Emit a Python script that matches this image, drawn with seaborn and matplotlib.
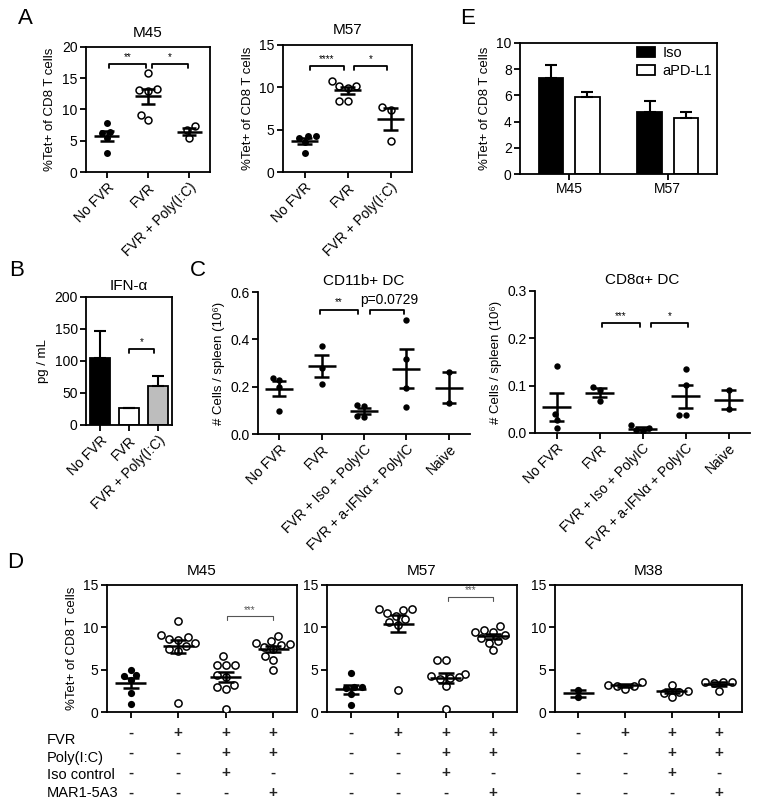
import numpy as np
import pandas as pd
import matplotlib
matplotlib.use('Agg')
import matplotlib.pyplot as plt
from matplotlib.ticker import FormatStrFormatter
import seaborn as sns
import warnings
warnings.filterwarnings('ignore')

# ---------------- data ----------------
a_groups = ['No FVR', 'FVR', 'FVR + Poly(I:C)']
a_m45_nofvr = [7.8, 6.4, 6.3, 5.4, 3.1]
a_m45_fvr = [15.9, 13.2, 13.1, 13.0, 9.1, 8.3]
a_m45_poly = [7.3, 6.7, 5.4]
a_m57_nofvr = [4.3, 4.2, 4.0, 3.5, 2.3]
a_m57_fvr = [10.8, 10.2, 10.2, 9.9, 8.4, 8.4]
a_m57_poly = [7.7, 7.3, 3.7]

b_groups = ['No FVR', 'FVR', 'FVR + Poly(I:C)']
b_values = [105, 26, 61]
b_err = [42, 1, 16]
b_colors = ['black', 'white', '#bdbdbd']

c_groups = ['No FVR', 'FVR', 'FVR + Iso + PolyIC', 'FVR + a-IFNα + PolyIC', 'Naive']
c_cd11b = [[0.235, 0.228, 0.200, 0.098], [0.371, 0.280, 0.213],
           [0.122, 0.120, 0.075, 0.073], [0.483, 0.316, 0.195, 0.112], [0.263, 0.129]]
c_cd8a = [[0.141, 0.040, 0.027, 0.011], [0.097, 0.091, 0.068],
          [0.016, 0.010, 0.006, 0.005], [0.135, 0.101, 0.037, 0.037], [0.091, 0.050]]

d_groups = ['g1', 'g2', 'g3', 'g4']
d_m45 = [[5.0, 4.4, 4.2, 3.8, 2.3, 1.0],
         [10.7, 9.1, 8.8, 8.6, 8.5, 8.1, 7.8, 7.5, 7.2, 1.1],
         [6.6, 5.6, 5.6, 5.6, 4.4, 4.1, 3.2, 2.9, 2.7, 0.3],
         [9.0, 8.4, 8.2, 8.0, 7.9, 7.7, 7.4, 6.6, 6.1, 5.0]]
d_m57 = [[4.6, 2.9, 2.9, 2.8, 2.1, 0.8],
         [12.2, 12.2, 12.0, 11.7, 11.3, 11.0, 10.6, 10.3, 2.6],
         [6.1, 6.1, 4.5, 4.3, 4.1, 4.0, 3.9, 3.1, 0.3],
         [10.1, 9.7, 9.5, 9.4, 9.1, 8.7, 8.4, 8.2, 7.3]]
d_m38 = [[2.65, 1.75], [3.6, 3.2, 3.1, 3.1, 2.7],
         [3.2, 2.5, 2.4, 2.3, 1.8], [3.6, 3.6, 3.5, 3.4, 2.5]]
d_rows = ['FVR', 'Poly(I:C)', 'Iso control', 'MAR1-5A3']
d_table = [['-', '+', '+', '+'], ['-', '-', '+', '+'],
           ['-', '-', '+', '-'], ['-', '-', '-', '+']]

e_strains = ['M45', 'M57']
e_treats = ['Iso', 'aPD-L1']
e_iso = [7.3, 4.75]
e_iso_err = [1.0, 0.8]
e_pdl1 = [5.9, 4.3]
e_pdl1_err = [0.35, 0.45]

# ---------------- style ----------------
sns.set_theme(style='ticks')
plt.rcParams['font.family'] = ['Liberation Sans', 'DejaVu Sans']
plt.rcParams.update({
    'axes.linewidth': 1.3, 'xtick.major.width': 1.3, 'ytick.major.width': 1.3,
    'xtick.major.size': 4, 'ytick.major.size': 4,
    'xtick.labelsize': 10, 'ytick.labelsize': 10,
    'axes.edgecolor': 'black', 'xtick.color': 'black', 'ytick.color': 'black',
    'text.color': 'black', 'axes.labelcolor': 'black',
    'xtick.major.pad': 2, 'ytick.major.pad': 2,
})

W, H = 758, 807
fig = plt.figure(figsize=(W / 100, H / 100), dpi=100)


def add_ax(x0, y0, x1, y1):
    return fig.add_axes([x0 / W, 1 - y1 / H, (x1 - x0) / W, (y1 - y0) / H])


def scatter_panel(ax, groups, values, filled, size=5, mean_w=0.62, cap_w=0.34):
    rows = []
    for g, vals in zip(groups, values):
        for v in vals:
            rows.append((g, v))
    df = pd.DataFrame(rows, columns=['group', 'value'])
    fg = [g for g, f in zip(groups, filled) if f]
    df_f = df[df.group.isin(fg)]
    df_o = df[~df.group.isin(fg)]
    if len(df_f):
        sns.swarmplot(data=df_f, x='group', y='value', order=groups, color='black',
                      size=size, ax=ax, zorder=3)
    if len(df_o):
        sns.swarmplot(data=df_o, x='group', y='value', order=groups, color='white',
                      edgecolor='black', linewidth=1.1, size=size, ax=ax, zorder=3)
    for i, vals in enumerate(values):
        m = np.mean(vals)
        se = np.std(vals, ddof=1) / np.sqrt(len(vals))
        ax.hlines(m, i - mean_w / 2, i + mean_w / 2, color='black', lw=1.8, zorder=5)
        ax.vlines(i, m - se, m + se, color='black', lw=1.8, zorder=5)
        ax.hlines([m - se, m + se], i - cap_w / 2, i + cap_w / 2, color='black', lw=1.8, zorder=5)
    ax.set_xlim(-0.5, len(groups) - 0.5)
    ax.set_xlabel('')


def bracket(ax, x0, x1, y, h, text, fs=7, color='black', lw=1.3, ty=None):
    ax.plot([x0, x0, x1, x1], [y - h, y, y, y - h], color=color, lw=lw, clip_on=False)
    ax.text((x0 + x1) / 2, ty if ty is not None else y, text, ha='center', va='bottom',
            fontsize=fs, color=color)


def box(ax):
    for s in ax.spines.values():
        s.set_visible(True)
        s.set_linewidth(1.3)


def rot_labels(ax, labels, fs=10):
    ax.set_xticks(range(len(labels)))
    ax.set_xticklabels(labels, rotation=45, ha='right', rotation_mode='anchor', fontsize=fs)


ylab_tet = '%Tet+ of CD8 T cells'

# ---------------- Panel A ----------------
ax = add_ax(86, 47, 210, 172)
scatter_panel(ax, a_groups, [a_m45_nofvr, a_m45_fvr, a_m45_poly], [True, False, False])
ax.set_ylim(0, 20)
ax.set_yticks([0, 5, 10, 15, 20])
rot_labels(ax, a_groups)
ax.set_ylabel(ylab_tet, fontsize=9.5)
ax.set_title('M45', fontsize=11, pad=7)
box(ax)
bracket(ax, 0.06, 0.94, 17.3, 0.7, '**', ty=17.6)
bracket(ax, 1.09, 1.96, 17.3, 0.7, '*', ty=17.6)

ax = add_ax(283, 45, 412, 172)
scatter_panel(ax, a_groups, [a_m57_nofvr, a_m57_fvr, a_m57_poly], [True, False, False])
ax.set_ylim(0, 15)
ax.set_yticks([0, 5, 10, 15])
rot_labels(ax, a_groups)
ax.set_ylabel(ylab_tet, fontsize=9.5)
ax.set_title('M57', fontsize=11, pad=8)
box(ax)
bracket(ax, 0.12, 0.92, 12.55, 0.5, '****', ty=12.8)
bracket(ax, 1.14, 1.92, 12.55, 0.5, '*', ty=12.8)

# ---------------- Panel E ----------------
ax = add_ax(520, 43, 717, 174)
df_e = pd.DataFrame({'strain': e_strains * 2,
                     'treat': [e_treats[0]] * 2 + [e_treats[1]] * 2,
                     'value': e_iso + e_pdl1})
sns.barplot(data=df_e, x='strain', y='value', hue='treat', hue_order=e_treats,
            palette={'Iso': 'black', 'aPD-L1': 'white'}, edgecolor='black', linewidth=1.3,
            width=0.74, gap=0.32, errorbar=None, ax=ax)
for cont, errs in zip(ax.containers, [e_iso_err, e_pdl1_err]):
    for bar, e in zip(cont, errs):
        xc = bar.get_x() + bar.get_width() / 2
        hgt = bar.get_height()
        ax.errorbar(xc, hgt, yerr=[[0], [e]], fmt='none', ecolor='black',
                    elinewidth=1.5, capsize=4.5, capthick=1.5, zorder=1)
ax.set_ylim(0, 10)
ax.set_yticks([0, 2, 4, 6, 8, 10])
ax.set_xlim(-0.5, 1.5)
ax.set_xlabel('')
ax.set_ylabel(ylab_tet, fontsize=9.5)
box(ax)
ax.legend(loc='upper left', bbox_to_anchor=(0.58, 1.0), frameon=False, fontsize=10.5,
          handlelength=1.25, handleheight=0.65, labelspacing=0.3, handletextpad=0.5,
          borderpad=0.2, borderaxespad=0.0)

# ---------------- Panel B ----------------
ax = add_ax(86, 297, 172, 425)
sns.barplot(x=b_groups, y=b_values, hue=b_groups, palette=b_colors, legend=False,
            edgecolor='black', linewidth=1.3, width=0.7, errorbar=None, ax=ax)
ax.errorbar(range(3), b_values, yerr=[[0] * 3, b_err], fmt='none', ecolor='black',
            elinewidth=1.5, capsize=4, capthick=1.5, zorder=1)
ax.set_ylim(0, 200)
ax.set_yticks([0, 50, 100, 150, 200])
ax.set_xlim(-0.5, 2.5)
rot_labels(ax, b_groups)
ax.set_ylabel('pg / mL', fontsize=9.5)
ax.set_title('IFN-α', fontsize=11, pad=5)
box(ax)
bracket(ax, 1.0, 1.88, 118, 6, '*', ty=121)

# ---------------- Panel C ----------------
ax = add_ax(258, 292, 470, 434)
scatter_panel(ax, c_groups, c_cd11b, [True] * 5, size=4.6, mean_w=0.66, cap_w=0.34)
ax.set_ylim(0, 0.6)
ax.set_yticks([0, 0.2, 0.4, 0.6])
ax.yaxis.set_major_formatter(FormatStrFormatter('%.1f'))
rot_labels(ax, c_groups)
ax.set_ylabel('# Cells / spleen (10⁶)', fontsize=9.5)
ax.set_title('CD11b+ DC', fontsize=11, pad=5)
sns.despine(ax=ax)
bracket(ax, 0.96, 1.86, 0.525, 0.02, '**', ty=0.535)
bracket(ax, 2.13, 2.95, 0.525, 0.02, '', ty=0.535)
ax.text(2.6, 0.535, 'p=0.0729', ha='center', va='bottom', fontsize=10)

ax = add_ax(535, 291, 750, 433)
scatter_panel(ax, c_groups, c_cd8a, [True] * 5, size=4.6, mean_w=0.66, cap_w=0.34)
ax.set_ylim(0, 0.3)
ax.set_yticks([0, 0.1, 0.2, 0.3])
ax.yaxis.set_major_formatter(FormatStrFormatter('%.1f'))
rot_labels(ax, c_groups)
ax.set_ylabel('# Cells / spleen (10⁶)', fontsize=9.5)
ax.set_title('CD8α+ DC', fontsize=11, pad=5)
sns.despine(ax=ax)
bracket(ax, 1.05, 1.95, 0.233, 0.01, '***', ty=0.237)
bracket(ax, 2.2, 3.05, 0.233, 0.01, '*', ty=0.237)

# ---------------- Panel D ----------------
d_axes_px = [(107, 297), (327, 517), (555, 742)]
d_titles = ['M45', 'M57', 'M38']
d_data = [d_m45, d_m57, d_m38]
row_y = [-0.165, -0.323, -0.48, -0.638]
for k, ((x0, x1), title, vals) in enumerate(zip(d_axes_px, d_titles, d_data)):
    ax = add_ax(x0, 585, x1, 712)
    scatter_panel(ax, d_groups, vals, [True, False, False, False], size=5.2,
                  mean_w=0.66, cap_w=0.34)
    ax.set_ylim(0, 15)
    ax.set_yticks([0, 5, 10, 15])
    ax.set_xticks(range(4))
    ax.set_xticklabels([''] * 4)
    ax.set_ylabel(ylab_tet if k == 0 else '', fontsize=9.5)
    ax.set_title(title, fontsize=11, pad=7)
    box(ax)
    for r, row in enumerate(d_table):
        for i, sym in enumerate(row):
            ax.text(i, row_y[r], sym, transform=ax.get_xaxis_transform(), ha='center',
                    va='center', fontsize=11, fontweight='bold', color='#222222')
    if k == 0:
        bracket(ax, 2.03, 2.99, 11.3, 0.45, '***', fs=7, color='#555555', lw=0.8, ty=11.5)
    if k == 1:
        bracket(ax, 2.05, 2.99, 13.6, 0.45, '***', fs=7, color='#555555', lw=0.8, ty=13.8)

label_y_px = [740, 758, 775, 793]
for lab, yp in zip(d_rows, label_y_px):
    fig.text(47 / W, 1 - yp / H, lab, ha='left', va='center', fontsize=10.5)

# ---------------- Panel letters ----------------
for lab, xp, yp in [('A', 25, 18), ('B', 17, 271), ('C', 198, 271), ('D', 15, 563), ('E', 468, 18)]:
    fig.text(xp / W, 1 - yp / H, lab, ha='center', va='center', fontsize=16)

fig.savefig('out.png', dpi=100)
